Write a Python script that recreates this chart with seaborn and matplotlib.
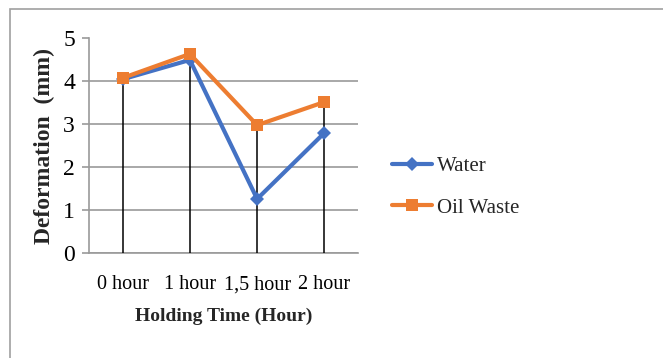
import matplotlib
matplotlib.use("Agg")
import matplotlib.pyplot as plt
import seaborn as sns
import pandas as pd
import numpy as np
from matplotlib.patches import Rectangle
from matplotlib.lines import Line2D

categories = ["0 hour", "1 hour", "1,5 hour", "2 hour"]
water = [4.05, 4.5, 1.26, 2.8]
oil_waste = [4.08, 4.64, 2.98, 3.52]
y_ticks = [0, 1, 2, 3, 4, 5]

sns.set_theme(style="white")
plt.rcParams["font.family"] = ["Liberation Serif", "DejaVu Serif"]

df = pd.DataFrame({
    "time": categories * 2,
    "deformation": water + oil_waste,
    "series": ["Water"] * len(categories) + ["Oil Waste"] * len(categories),
})

fig = plt.figure(figsize=(6.63, 3.58), dpi=100)
fig.patch.set_facecolor("white")
ax = fig.add_axes([89 / 663, 1 - 253 / 358, (358 - 89) / 663, (253 - 38.5) / 358])

# outer chart-area frame
fig.patches.append(Rectangle((9.5 / 663, -0.05), 1.2, 1 - 9.5 / 358 + 0.05,
                             transform=fig.transFigure, fill=False,
                             edgecolor="#a0a0a0", linewidth=1.2))

x = np.arange(len(categories))
# drop lines from the highest point down to the axis
tops = np.maximum(water, oil_waste)
ax.vlines(x, 0, tops, colors="black", linewidth=1.1, zorder=3)

palette = {"Water": "#4472C4", "Oil Waste": "#ED7D31"}
markers = {"Water": "D", "Oil Waste": "s"}
sns.lineplot(data=df, x="time", y="deformation", hue="series", style="series",
             palette=palette, markers=markers, dashes=False, sort=False,
             linewidth=3, markersize=9, markeredgewidth=0, ax=ax, zorder=4,
             legend=False)
# give the diamond its smaller size
for line in ax.get_lines():
    if line.get_marker() == "D":
        line.set_markersize(7)

ax.set_xlim(-0.5, 3.5)
ax.set_ylim(0, 5)
ax.set_yticks(y_ticks)
ax.set_xticks(x)
ax.set_xticklabels(categories)
ax.yaxis.grid(True, color="#9a9a9a", linewidth=1.2)
ax.set_axisbelow(True)
for s in ["top", "right"]:
    ax.spines[s].set_visible(False)
ax.spines["left"].set_color("#9a9a9a")
ax.spines["bottom"].set_color("#9a9a9a")
ax.spines["left"].set_linewidth(1.2)
ax.spines["bottom"].set_linewidth(1.2)
ax.tick_params(axis="y", left=True, length=5, width=1.2, color="#9a9a9a",
               labelsize=17, pad=5, labelcolor="black")
ax.tick_params(axis="x", bottom=False, labelsize=14.5, pad=10, labelcolor="black")

ax.set_xlabel("Holding Time (Hour)", fontsize=14, fontweight="bold", labelpad=10)
ax.set_ylabel("Deformation  (mm)", fontsize=17, fontweight="bold", labelpad=6)

handles = [Line2D([], [], color=palette[k], marker=markers[k], linewidth=3,
                  markersize=9 if k == "Oil Waste" else 7, markeredgewidth=0)
           for k in ["Water", "Oil Waste"]]
fig.legend(handles, ["Water", "Oil Waste"], loc="center left",
           bbox_to_anchor=(373 / 663, 1 - 187 / 358), frameon=False,
           fontsize=15, handlelength=1.95, handletextpad=0.2, labelspacing=1.05)

fig.savefig("out.png", dpi=100, facecolor="white")
